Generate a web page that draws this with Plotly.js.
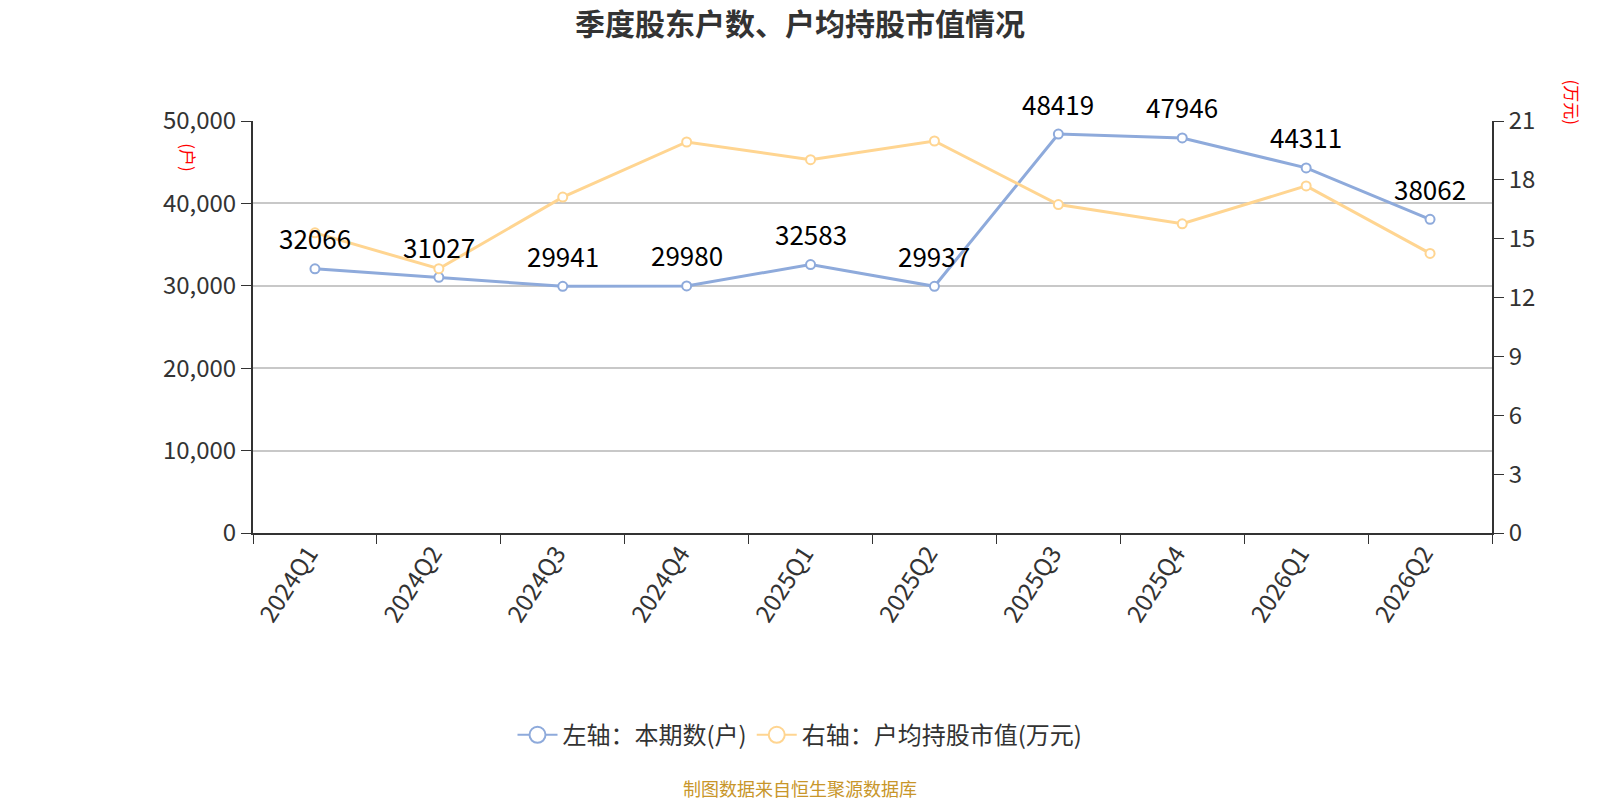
<!DOCTYPE html>
<html>
<head>
<meta charset="utf-8">
<script src="https://cdn.plot.ly/plotly-3.0.1.min.js"></script>
<style>
  html, body { margin: 0; padding: 0; background: #fff; }
  #chart { width: 1600px; height: 800px; }
</style>
</head>
<body>
<div id="chart"></div>
<script>
var quarters = ["2024Q1", "2024Q2", "2024Q3", "2024Q4", "2025Q1", "2025Q2", "2025Q3", "2025Q4", "2026Q1", "2026Q2"];
var holders = [32066, 31027, 29941, 29980, 32583, 29937, 48419, 47946, 44311, 38062];
var avgValue = [15.3, 13.47, 17.12, 19.93, 19.03, 19.98, 16.74, 15.76, 17.69, 14.25];
var leftTicks = [0, 10000, 20000, 30000, 40000, 50000];
var rightTicks = [0, 3, 6, 9, 12, 15, 18, 21];

var BLUE = "#8eaadb";
var ORANGE = "#ffd591";
var FONT = "Noto Sans CJK SC, Noto Sans, sans-serif";

var traces = [{
    x: quarters,
    y: avgValue,
    yaxis: "y2",
    type: "scatter",
    mode: "lines+markers",
    line: {color: ORANGE, width: 3},
    marker: {symbol: "circle", size: 9, color: "#fff", line: {color: ORANGE, width: 2}},
    showlegend: false,
    cliponaxis: false,
    hoverinfo: "x+y"
}, {
    x: quarters,
    y: holders,
    type: "scatter",
    mode: "lines+markers",
    line: {color: BLUE, width: 3},
    marker: {symbol: "circle", size: 9, color: "#fff", line: {color: BLUE, width: 2}},
    showlegend: false,
    cliponaxis: false,
    hoverinfo: "x+y"
}, {
    // legend entries only
    x: [null], y: [null],
    name: "左轴：本期数(户)",
    type: "scatter",
    mode: "lines+markers",
    line: {color: BLUE, width: 2},
    marker: {symbol: "circle", size: 16, color: "#fff", line: {color: BLUE, width: 2}}
}, {
    x: [null], y: [null],
    name: "右轴：户均持股市值(万元)",
    type: "scatter",
    mode: "lines+markers",
    line: {color: ORANGE, width: 2},
    marker: {symbol: "circle", size: 16, color: "#fff", line: {color: ORANGE, width: 2}}
}];

// value labels above the blue points
var labels = quarters.map(function(q, i) {
    return {
        x: q, y: holders[i],
        xref: "x", yref: "y",
        text: String(holders[i]),
        showarrow: false,
        yshift: 31,
        xanchor: "center", yanchor: "middle",
        font: {size: 26, color: "#000", family: FONT}
    };
});

var layout = {
    width: 1600,
    height: 800,
    margin: {l: 253, r: 108, t: 121, b: 267},
    paper_bgcolor: "#fff",
    plot_bgcolor: "#fff",
    font: {family: FONT, color: "#333"},
    title: {
        text: "<b>季度股东户数、户均持股市值情况</b>",
        font: {size: 30, color: "#333", family: FONT},
        x: 0.5, xanchor: "center",
        y: 0.97, yanchor: "middle"
    },
    xaxis: {
        type: "category",
        range: [-0.5, quarters.length - 0.5],
        tickangle: -57,
        tickson: "boundaries",
        ticks: "outside",
        ticklen: 9,
        tickcolor: "#333",
        tickfont: {size: 24, color: "#333"},
        ticklabelstandoff: -5,
        ticklabelshift: -6,
        showline: true,
        linecolor: "#333",
        linewidth: 2,
        showgrid: false,
        zeroline: false
    },
    yaxis: {
        range: [0, 50000],
        tickvals: leftTicks,
        tickformat: ",d",
        ticks: "outside",
        ticklen: 10,
        tickcolor: "#333",
        tickfont: {size: 24, color: "#333"},
        showline: true,
        linecolor: "#333",
        linewidth: 2,
        showgrid: true,
        gridcolor: "#c8c8c8",
        gridwidth: 1.5,
        zeroline: false
    },
    yaxis2: {
        overlaying: "y",
        side: "right",
        range: [0, 21],
        tickvals: rightTicks,
        ticks: "outside",
        ticklen: 10,
        tickcolor: "#333",
        tickfont: {size: 24, color: "#333"},
        showline: true,
        linecolor: "#333",
        linewidth: 2,
        showgrid: false,
        zeroline: false
    },
    legend: {
        orientation: "h",
        x: 0.5, xanchor: "center",
        xref: "container",
        y: 0.081, yanchor: "middle",
        yref: "container",
        font: {size: 24, color: "#333"},
        itemwidth: 40
    },
    annotations: labels.concat([{
        text: "(户)",
        xref: "paper", yref: "paper",
        x: -0.0517, y: 0.91,
        xanchor: "center", yanchor: "middle",
        showarrow: false,
        textangle: 90,
        font: {size: 17, color: "red"}
    }, {
        text: "(万元)",
        xref: "paper", yref: "paper",
        x: 1.065, y: 1.046,
        xanchor: "center", yanchor: "middle",
        showarrow: false,
        textangle: 90,
        font: {size: 17, color: "red"}
    }, {
        text: "制图数据来自恒生聚源数据库",
        xref: "paper", yref: "paper",
        x: 0.4415, y: -0.618,
        xanchor: "center", yanchor: "middle",
        showarrow: false,
        font: {size: 18, color: "#c8962a"}
    }])
};

Plotly.newPlot("chart", traces, layout, {displayModeBar: false});
</script>
</body>
</html>
